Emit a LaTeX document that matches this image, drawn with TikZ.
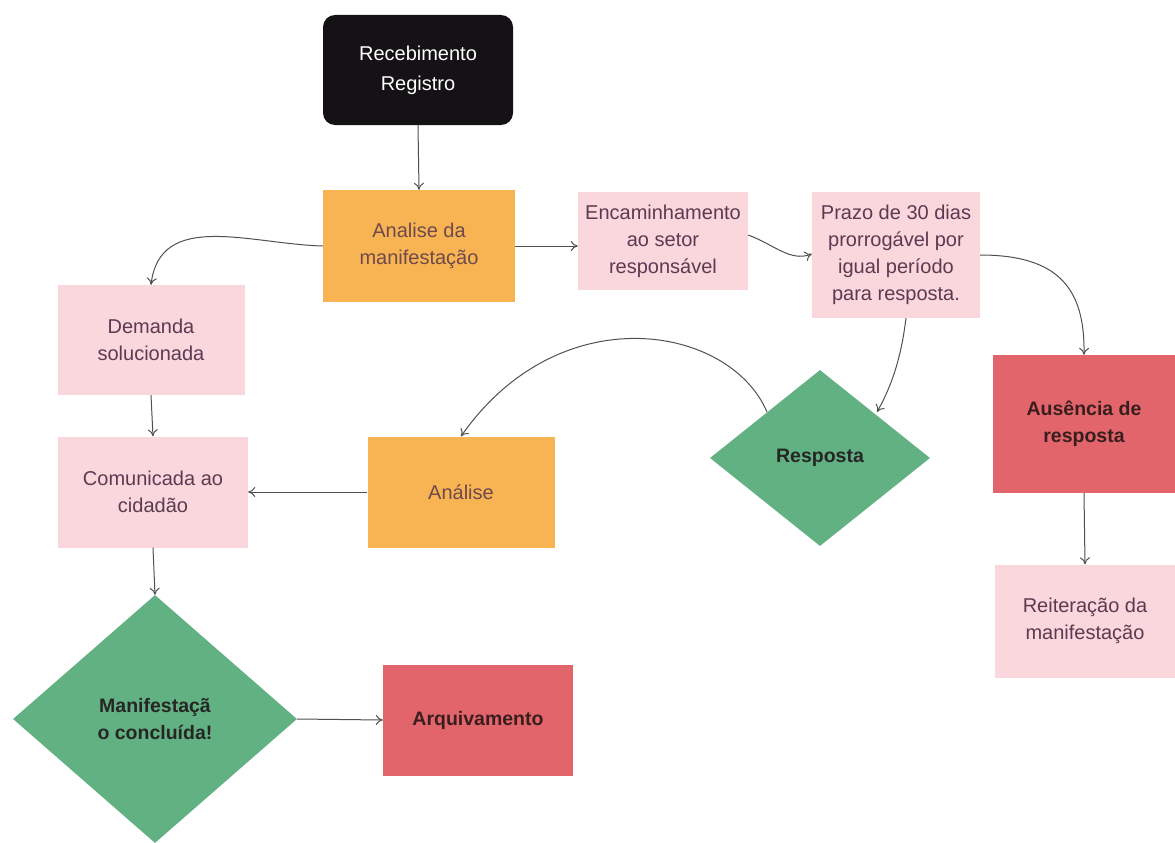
\documentclass[tikz,border=0pt]{standalone}
\usepackage{fontspec}
\setmainfont{Liberation Sans}
\usetikzlibrary{shapes.geometric,arrows.meta}
\definecolor{cblack}{HTML}{141214}
\definecolor{corange}{HTML}{F8B452}
\definecolor{cpink}{HTML}{FAD6DD}
\definecolor{cred}{HTML}{E2656C}
\definecolor{cgreen}{HTML}{62B182}
\definecolor{cline}{HTML}{505050}
\definecolor{ctxt}{HTML}{5A3B50}
\definecolor{cbtxt}{HTML}{3A1E1E}
\tikzset{
  base/.style={inner sep=0pt, align=center, font=\fontsize{20}{27}\selectfont},
  blackbox/.style={base, rectangle, rounded corners=12pt, fill=cblack, text=white, minimum width=190pt, minimum height=110pt, font=\fontsize{20}{30}\selectfont},
  orangebox/.style={base, rectangle, fill=corange, text=ctxt!80!brown, minimum width=190pt, minimum height=111pt},
  pinkbox/.style={base, rectangle, fill=cpink, text=ctxt},
  redbox/.style={base, rectangle, fill=cred, text=cbtxt, font=\fontsize{19.5}{27}\selectfont\bfseries},
  greendia/.style={base, diamond, fill=cgreen, text=black!85, font=\fontsize{19.5}{27}\selectfont\bfseries, aspect=1.15},
  conn/.style={draw=cline, line width=1pt, -{To[length=7pt,width=10pt]}}
}
\begin{document}
\begin{tikzpicture}[x=1pt,y=-1pt]
\useasboundingbox (0,0) rectangle (1175,843);
\node[blackbox] (rec) at (418,70) {Recebimento\\Registro};
\node[orangebox, minimum width=192pt, minimum height=112pt] (ana) at (419,246) {Analise da\\manifestação};
\node[pinkbox, minimum width=170pt, minimum height=98pt] (enc) at (663,241) {Encaminhamento\\ao setor\\responsável};
\node[pinkbox, minimum width=168pt, minimum height=126pt] (pra) at (896,255) {Prazo de 30 dias\\prorrogável por\\igual período\\para resposta.};
\node[pinkbox, minimum width=187pt, minimum height=110pt] (dem) at (151,340) {Demanda\\solucionada};
\node[pinkbox, minimum width=190pt, minimum height=111pt] (com) at (153,492) {Comunicada ao\\cidadão};
\node[orangebox, minimum width=187pt, minimum height=111pt] (anl) at (461,492) {Análise};
\node[greendia, minimum width=220pt, minimum height=176pt] (res) at (820,458) {Resposta};
\node[redbox, minimum width=182pt, minimum height=138pt] (aus) at (1084,424) {Ausência de\\resposta};
\node[pinkbox, minimum width=180pt, minimum height=113pt] (rei) at (1085,621) {Reiteração da\\manifestação};
\node[greendia, minimum width=284pt, minimum height=248pt] (man) at (155,719) {Manifestaçã\\o concluída!};
\node[redbox, minimum width=190pt, minimum height=111pt] (arq) at (478,720) {Arquivamento};
% connectors
\draw[conn] (rec.south) -- (ana.north);
\draw[conn] (ana.west) .. controls (250,244) and (160,210) .. (dem.north);
\draw[conn] (ana.east) -- (enc.west |- ana.east);
\draw[conn] ([yshift=6pt]enc.east) .. controls (775,245) and (790,262) .. ([yshift=1pt]pra.west);
\draw[conn] (pra.east) .. controls (1060,255) and (1085,290) .. (aus.north);
\draw[conn] ([xshift=10pt]pra.south) .. controls (902,350) and (895,380) .. (877,412);
\draw[conn] (767,412) .. controls (730,325) and (560,295) .. (anl.north);
\draw[conn] (dem.south) -- (com.north);
\draw[conn] (anl.west) -- (com.east);
\draw[conn] (com.south) -- (man.north);
\draw[conn] (man.east) -- (arq.west);
\draw[conn] (aus.south) -- (rei.north);
\end{tikzpicture}
\end{document}
